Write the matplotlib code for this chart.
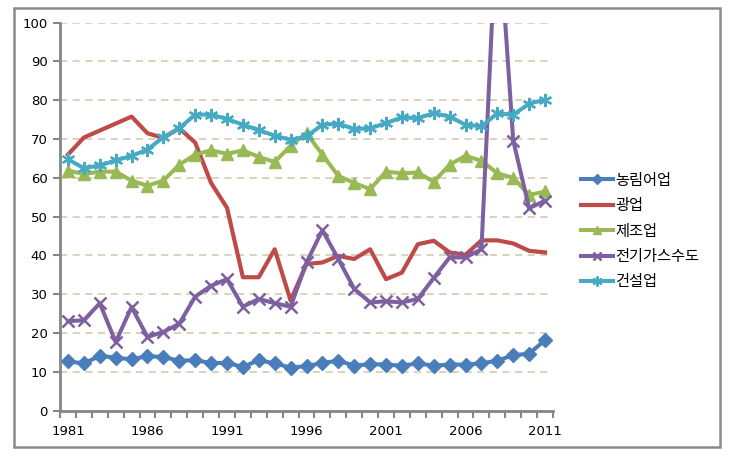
import matplotlib.pyplot as plt
from matplotlib.patches import Rectangle

plt.rcParams['font.family'] = ['Noto Sans CJK KR', 'DejaVu Sans']

years = list(range(1981, 2012))

agri = [12.7, 12.2, 14.1, 13.7, 13.2, 14.1, 13.8, 12.9, 13.0, 12.3,
        12.3, 11.3, 13.0, 12.2, 11.1, 11.5, 12.3, 12.9, 11.6, 12.0,
        11.9, 11.6, 12.2, 11.6, 11.9, 11.9, 12.2, 12.9, 14.3, 14.7, 18.2]
mining = [66.0, 70.4, 72.2, 74.0, 75.8, 71.5, 70.3, 72.8, 69.1, 58.7,
          52.3, 34.4, 34.4, 41.6, 28.4, 37.8, 38.2, 39.9, 39.1, 41.6,
          33.9, 35.6, 42.9, 43.8, 40.8, 40.2, 43.9, 43.9, 43.1, 41.2, 40.8]
manuf = [61.9, 61.0, 61.6, 61.6, 59.3, 58.0, 59.3, 63.4, 66.0, 67.1,
         66.2, 67.1, 65.4, 64.1, 68.3, 71.5, 66.0, 60.5, 58.7, 57.1,
         61.6, 61.2, 61.4, 59.0, 63.4, 65.7, 64.4, 61.2, 60.0, 55.6, 56.5]
utility = [23.1, 23.3, 27.7, 17.7, 26.7, 19.0, 20.3, 22.4, 29.4, 32.2,
           33.9, 26.8, 28.8, 27.7, 26.8, 38.2, 46.5, 39.1, 31.4, 27.9,
           28.2, 27.9, 28.8, 34.2, 39.5, 39.5, 41.6, 130.0, 69.6, 52.2, 54.1]
constr = [64.8, 62.5, 63.2, 64.5, 65.7, 67.3, 70.5, 72.8, 76.3, 76.3,
          75.2, 73.7, 72.3, 70.9, 69.8, 70.7, 73.7, 74.0, 72.6, 72.8,
          74.1, 75.6, 75.4, 76.7, 75.8, 73.7, 73.3, 76.6, 76.3, 79.1, 80.2]

labels = ['농림어업', '광업', '제조업', '전기가스수도', '건설업']
colors = ['#4A7EBB', '#BE4B48', '#98B954', '#7D60A0', '#46AAC5']

fig = plt.figure(figsize=(7.3, 4.63), dpi=100)
ax = fig.add_axes([60 / 730, 1 - 410.7 / 463, 493 / 730, 388 / 463])

# gray frame around the whole chart
fig.patches.append(Rectangle((14 / 730, 1 - 447 / 463), 706 / 730, 439 / 463,
                             transform=fig.transFigure, fill=False,
                             edgecolor='#8a8a8a', linewidth=1.8))

ax.plot(years, agri, color=colors[0], lw=2.9, marker='D', ms=7, label=labels[0])
ax.plot(years, mining, color=colors[1], lw=3.0, label=labels[1])
ax.plot(years, manuf, color=colors[2], lw=2.9, marker='^', ms=8.5, label=labels[2])
ax.plot(years, utility, color=colors[3], lw=2.9, marker='x', ms=8.5, mew=1.8, label=labels[3])
ax.plot(years, constr, color=colors[4], lw=2.9, marker=(6, 2, 0), ms=9.5, mew=1.6, label=labels[4])

ax.set_xlim(1980.5, 2011.5)
ax.set_ylim(0, 100)
ax.set_yticks(range(0, 101, 10))
ax.set_xticks(range(1981, 2012, 5))
ax.set_xticks([y + 0.5 for y in range(1980, 2012)], minor=True)
ax.tick_params(axis='x', which='major', length=0, pad=10, labelsize=9.5)
ax.tick_params(axis='x', which='minor', length=5, width=1.5, color='#868686')
ax.tick_params(axis='y', length=5, width=1.5, color='#868686', labelsize=9.5, pad=4)
for lab in ax.get_xticklabels() + ax.get_yticklabels():
    lab.set_family('DejaVu Sans')

ax.grid(axis='y', color='#d6d0b8', linestyle=(0, (4, 3)), linewidth=1.3)
ax.set_axisbelow(True)
for s in ['top', 'right']:
    ax.spines[s].set_visible(False)
for s in ['left', 'bottom']:
    ax.spines[s].set_color('#868686')
    ax.spines[s].set_linewidth(2)

fig.legend(loc='upper left', bbox_to_anchor=(567 / 730, 1 - 158 / 463),
           frameon=False, fontsize=11, handlelength=2.1, handletextpad=0.15,
           labelspacing=0.55, markerscale=0.75)

fig.savefig('out.png', dpi=100)
